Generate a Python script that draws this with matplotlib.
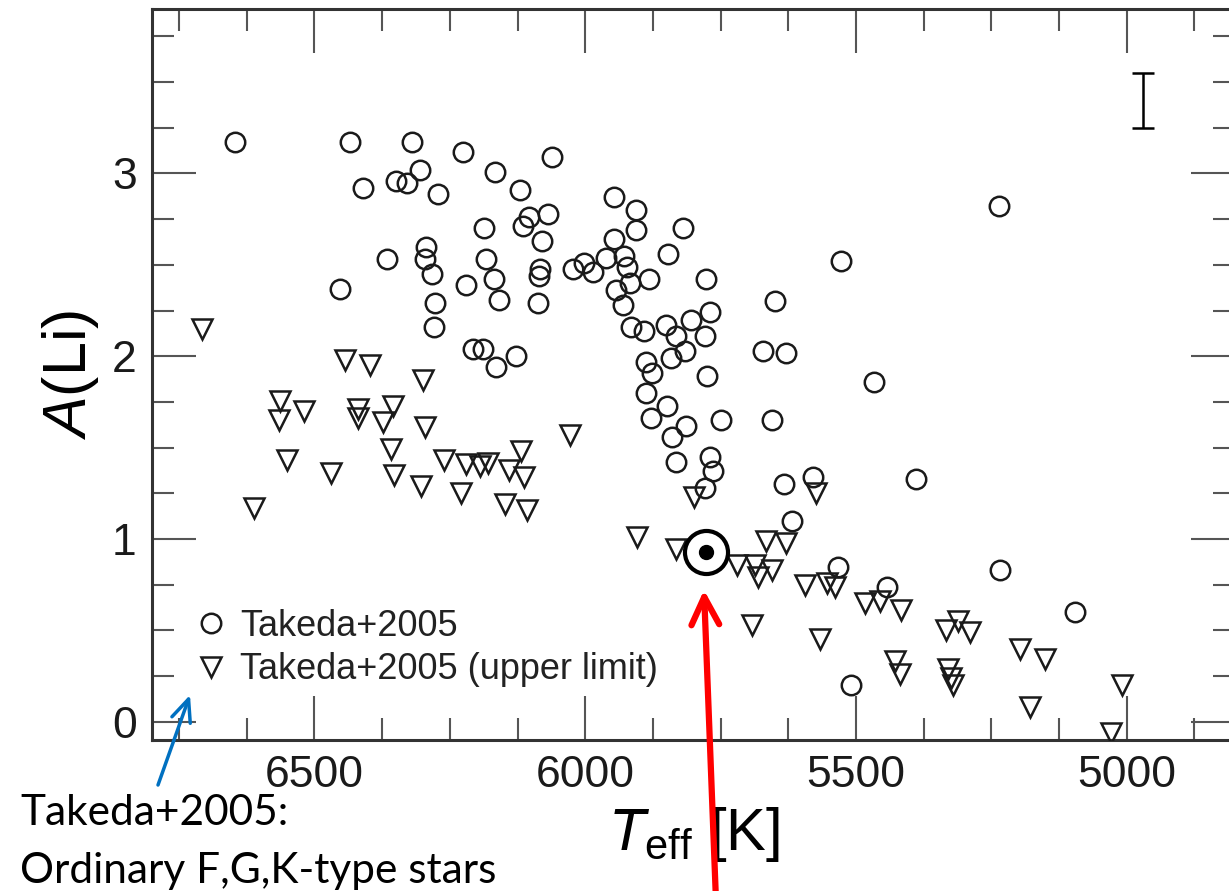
import numpy as np
import matplotlib
matplotlib.use('Agg')
import matplotlib.pyplot as plt
from matplotlib.ticker import MultipleLocator

# Takeda+2005 detections (Teff [K], A(Li))
teff_det = [6646, 6434, 6320, 6225, 6062, 6306, 6350, 6330, 6410, 6271,
            6166, 6120, 5947, 5907, 5907, 6103, 6068, 6114, 6186, 6079,
            5947, 6294, 6295, 6283, 6366, 6453, 6221, 6183, 6169, 6159,
            6083, 6086, 6088, 6278, 6280, 6023, 6002, 5985, 5962, 5928,
            5923, 5917, 5944, 5931, 5916, 5891, 5883, 6208, 6188, 6165,
            6127, 5819, 5847, 5777, 5649, 5850, 5833, 5804, 5816, 5769,
            5778, 5775, 5671, 5629, 5888, 5876, 5842, 5887, 5849, 5879,
            5814, 5839, 5832, 5750, 5655, 5769, 5764, 5778, 5632, 5580,
            5389, 5619, 5236, 5527, 5466, 5534, 5443, 5234, 5096, 5510]
ali_det = [3.17, 3.17, 3.17, 3.12, 3.09, 3.02, 2.96, 2.95, 2.92, 2.89,
           3.01, 2.91, 2.87, 2.80, 2.69, 2.76, 2.78, 2.71, 2.70, 2.63,
           2.64, 2.60, 2.53, 2.45, 2.53, 2.37, 2.39, 2.53, 2.42, 2.31,
           2.48, 2.44, 2.29, 2.29, 2.16, 2.48, 2.51, 2.46, 2.54, 2.55,
           2.49, 2.40, 2.36, 2.28, 2.16, 2.14, 2.42, 2.04, 2.04, 1.94,
           2.00, 2.70, 2.56, 2.42, 2.30, 2.17, 2.11, 2.20, 2.03, 2.24,
           2.11, 1.89, 2.03, 2.02, 1.97, 1.91, 1.99, 1.80, 1.73, 1.66,
           1.62, 1.56, 1.42, 1.65, 1.65, 1.45, 1.37, 1.28, 1.30, 1.34,
           1.33, 1.10, 2.82, 2.52, 1.86, 0.845, 0.735, 0.83, 0.60, 0.20]

# Takeda+2005 upper limits
teff_lim = [6708, 6444, 6397, 6299, 6564, 6565, 6520, 6420, 6420, 6355,
            6374, 6296, 6551, 6469, 6358, 6354, 6303, 6260, 6220, 6195,
            6180, 6140, 6119, 6113, 6229, 6148, 6108, 6611, 6028, 5905,
            5799, 5574, 5833, 5720, 5686, 5681, 5655, 5667, 5630, 5594,
            5554, 5538, 5483, 5455, 5416, 5692, 5566, 5311, 5333, 5290,
            5428, 5419, 5330, 5325, 5321, 5197, 5151, 5178, 5009, 5029]
ali_lim = [2.15, 1.98, 1.95, 1.87, 1.755, 1.65, 1.70, 1.71, 1.66, 1.73,
           1.64, 1.61, 1.43, 1.36, 1.49, 1.35, 1.29, 1.43, 1.41, 1.40,
           1.415, 1.38, 1.48, 1.34, 1.25, 1.19, 1.16, 1.17, 1.57, 1.01,
           1.23, 1.25, 0.945, 0.855, 0.86, 0.79, 0.83, 0.99, 0.98, 0.75,
           0.76, 0.735, 0.65, 0.66, 0.61, 0.53, 0.45, 0.55, 0.50, 0.49,
           0.33, 0.26, 0.29, 0.24, 0.20, 0.40, 0.345, 0.08, 0.20, -0.06]

# the Sun
sun_teff = 5777
sun_ali = 0.93

# typical error bar
err_teff = 4970
err_ali = 3.40
err_size = 0.15

plt.rcParams['font.family'] = ['Liberation Sans', 'DejaVu Sans']
plt.rcParams['mathtext.fontset'] = 'custom'
plt.rcParams['mathtext.rm'] = 'Liberation Sans'
plt.rcParams['mathtext.it'] = 'Liberation Sans:italic'

fig = plt.figure(figsize=(12.29, 8.91), dpi=100)
ax = fig.add_axes([152 / 1229, 151 / 891, 1083 / 1229, 731 / 891])

ax.plot(teff_det, ali_det, 'o', ms=14, mfc='none', mec='#1a1a1a', mew=1.8,
        label='Takeda+2005', zorder=3)
ax.plot(teff_lim, ali_lim, 'v', ms=14, mfc='none', mec='#1a1a1a', mew=1.8,
        label='Takeda+2005 (upper limit)', zorder=3)

ax.plot(sun_teff, sun_ali, 'o', ms=31, mfc='white', mec='black', mew=3, zorder=5)
ax.plot(sun_teff, sun_ali, 'o', ms=10, mfc='black', mec='black', zorder=6)

ax.errorbar([err_teff], [err_ali], yerr=err_size, fmt='none', ecolor='black',
            elinewidth=1.8, capsize=8, capthick=1.8)

ax.set_xlim(6800, 4800)
ax.set_ylim(-0.1, 3.9)
ax.xaxis.set_major_locator(MultipleLocator(500))
ax.xaxis.set_minor_locator(MultipleLocator(125))
ax.yaxis.set_major_locator(MultipleLocator(1))
ax.yaxis.set_minor_locator(MultipleLocator(0.25))
ax.tick_params(which='both', direction='in', top=True, right=True,
               color='#555555', width=1.5, labelsize=32, labelcolor='#1a1a1a')
ax.tick_params(which='major', length=31.5, pad=11)
ax.tick_params(which='minor', length=15.8)
for s in ax.spines.values():
    s.set_linewidth(2.2)
    s.set_color('#333333')

ax.set_xlabel(r'$T_{\rm eff}$ [K]', fontsize=43, labelpad=6)
ax.set_ylabel(r'$A$(Li)', fontsize=44, labelpad=8)

ax.legend(loc='lower left', bbox_to_anchor=(0.038, 0.072), frameon=False,
          fontsize=26, handlelength=1.0, handletextpad=0.3, labelspacing=0.23,
          borderpad=0, borderaxespad=0, markerscale=1.0, labelcolor='#222222')

fig.text(20 / 1229, (891 - 825) / 891, 'Takeda+2005:', fontsize=30.5,
         family='Lato', va='baseline', color='black')
fig.text(20 / 1229, (891 - 883) / 891, 'Ordinary F,G,K-type stars', fontsize=30.5,
         family='Lato', va='baseline', color='black')

ax.annotate('', xy=(190, 891 - 695), xytext=(158, 891 - 785),
            xycoords='figure pixels', textcoords='figure pixels',
            arrowprops=dict(arrowstyle='->,head_length=1.6,head_width=0.7',
                            color='#0070C0', lw=2.5, mutation_scale=10,
                            shrinkA=0, shrinkB=0), annotation_clip=False)
ax.annotate('', xy=(704, 891 - 590), xytext=(716, -10),
            xycoords='figure pixels', textcoords='figure pixels',
            arrowprops=dict(arrowstyle='->,head_length=2.0,head_width=1.0',
                            color='#ff0000', lw=4.5, mutation_scale=10,
                            shrinkA=0, shrinkB=0), annotation_clip=False)

fig.savefig('out.png', dpi=100)
